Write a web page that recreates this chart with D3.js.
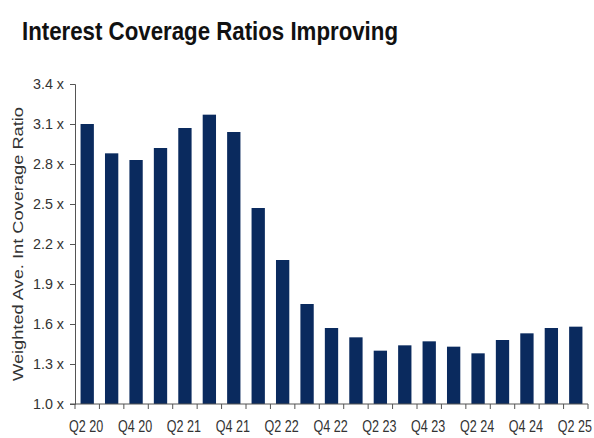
<!DOCTYPE html>
<html>
<head>
<meta charset="utf-8">
<script src="https://cdn.jsdelivr.net/npm/d3@7"></script>
<style>
body { margin: 0; background: #fff; }
svg { display: block; }
</style>
</head>
<body>
<div id="divbody"></div>
<script>
var quarters = ["Q2 20","Q3 20","Q4 20","Q1 21","Q2 21","Q3 21","Q4 21","Q1 22","Q2 22","Q3 22","Q4 22",
  "Q1 23","Q2 23","Q3 23","Q4 23","Q1 24","Q2 24","Q3 24","Q4 24","Q1 25","Q2 25"];
var ratios = [3.10, 2.88, 2.83, 2.92, 3.07, 3.17, 3.04, 2.47, 2.08, 1.75, 1.57,
  1.50, 1.40, 1.44, 1.47, 1.43, 1.38, 1.48, 1.53, 1.57, 1.58];
var yTicks = [1.0, 1.3, 1.6, 1.9, 2.2, 2.5, 2.8, 3.1, 3.4];
var xLabels = ["Q2 20","Q4 20","Q2 21","Q4 21","Q2 22","Q4 22","Q2 23","Q4 23","Q2 24","Q4 24","Q2 25"];

var width = 594, height = 438;
var plotLeft = 75, plotRight = 588, plotTop = 84, plotBottom = 404;
var barColor = "#0a2a5e";
var font = "'Liberation Sans', Arial, sans-serif";

var svg = d3.select("#divbody").append("svg")
  .attr("width", width)
  .attr("height", height);

svg.append("text")
  .attr("x", 22)
  .attr("y", 40)
  .attr("font-family", font)
  .attr("font-weight", "bold")
  .attr("font-size", 26)
  .attr("textLength", 376)
  .attr("lengthAdjust", "spacingAndGlyphs")
  .attr("fill", "#111")
  .text("Interest Coverage Ratios Improving");

var x = d3.scaleBand().domain(quarters).range([plotLeft, plotRight]).paddingInner(0.455).paddingOuter(0.2275);
var y = d3.scaleLinear().domain([1.0, 3.4]).range([plotBottom, plotTop]);

svg.selectAll("rect.bar")
  .data(ratios)
  .enter()
  .append("rect")
  .attr("class", "bar")
  .attr("x", function(d, i){ return x(quarters[i]); })
  .attr("y", function(d){ return y(d); })
  .attr("width", x.bandwidth())
  .attr("height", function(d){ return y(1.0) - y(d); })
  .attr("fill", barColor);

// y axis
var yAxis = svg.append("g")
  .attr("transform", "translate(" + plotLeft + ",0)")
  .call(d3.axisLeft(y).tickValues(yTicks).tickSize(5).tickPadding(6)
    .tickFormat(function(d){ return d3.format(".1f")(d) + " x"; }));
yAxis.selectAll("path, line").attr("stroke", "#555");
yAxis.selectAll("text")
  .attr("font-family", font)
  .attr("font-size", 14)
  .attr("textLength", 31)
  .attr("lengthAdjust", "spacingAndGlyphs")
  .attr("fill", "#333");

// x axis: ticks on category boundaries
var step = x.step();
var boundaries = quarters.map(function(q){ return x(q) - x.paddingInner() * step / 2; });
boundaries.push(plotRight);
var xg = svg.append("g");
xg.append("line")
  .attr("x1", plotLeft - 5).attr("x2", plotRight)
  .attr("y1", plotBottom).attr("y2", plotBottom)
  .attr("stroke", "#555");
xg.selectAll("line.tick")
  .data(boundaries)
  .enter()
  .append("line")
  .attr("class", "tick")
  .attr("x1", function(d){ return d; }).attr("x2", function(d){ return d; })
  .attr("y1", plotBottom).attr("y2", plotBottom + 5)
  .attr("stroke", "#555");
// condensed labels: squeeze horizontally
xg.selectAll("text")
  .data(xLabels)
  .enter()
  .append("text")
  .attr("transform", function(d){
    return "translate(" + (x(d) + x.bandwidth() / 2 - 1) + "," + (plotBottom + 28) + ") scale(0.74,1)";
  })
  .attr("text-anchor", "middle")
  .attr("font-family", font)
  .attr("font-size", 17)
  .attr("fill", "#333")
  .text(function(d){ return d; });

svg.append("text")
  .attr("transform", "translate(23," + ((plotTop + plotBottom) / 2 + 0) + ") rotate(-90)")
  .attr("text-anchor", "middle")
  .attr("font-family", font)
  .attr("font-size", 15)
  .attr("textLength", 274)
  .attr("lengthAdjust", "spacingAndGlyphs")
  .attr("fill", "#333")
  .text("Weighted Ave. Int Coverage Ratio");
</script>
</body>
</html>
